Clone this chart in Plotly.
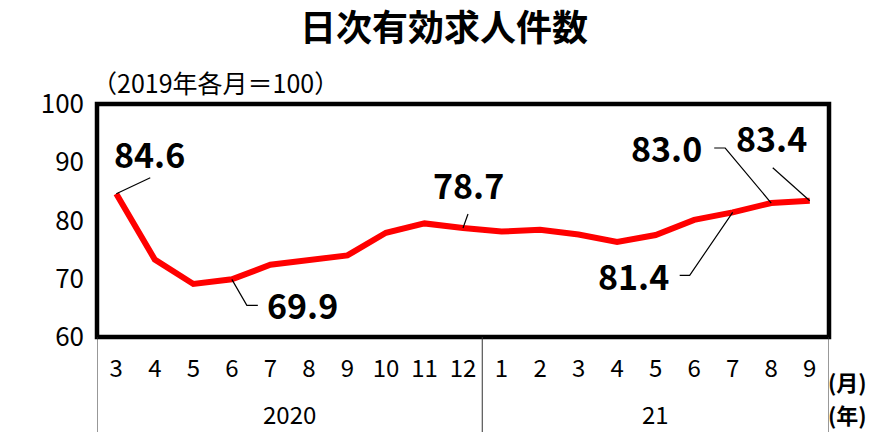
import plotly.graph_objects as go

months = ["3", "4", "5", "6", "7", "8", "9", "10", "11", "12",
          "1", "2", "3", "4", "5", "6", "7", "8", "9"]
values = [84.6, 73.3, 69.1, 69.9, 72.4, 73.3, 74.0, 77.9, 79.5, 78.7,
          78.1, 78.4, 77.6, 76.3, 77.5, 80.1, 81.4, 83.0, 83.4]
years = ["2020", "21"]
year_spans = [(0, 9), (10, 18)]
y_ticks = [60, 70, 80, 90, 100]

title_text = "日次有効求人件数"
base_text = "（2019年各月＝100）"

# labelled points: index, text, text offset (px, screen: +x right, +y down), leader path (px, +y up)
labels = [
    (0, "84.6", (33, -40), "M0,0 L34,16"),
    (3, "69.9", (71, 25), "M0,0 L15,-26 L26,-26"),
    (9, "78.7", (5, -44), "M0,0 L5,14"),
    (16, "81.4", (-99, 63), "M0,0 L-43,-63 L-53,-63"),
    (17, "83.0", (-105, -56), "M0,0 L-46,55 L-57,55"),
    (18, "83.4", (-38, -63), "M0,0 L-37,33"),
]

JP = "Noto Sans CJK JP"
x = list(range(len(months)))

fig = go.Figure()
fig.add_trace(go.Scatter(
    x=x, y=values, mode="lines",
    line=dict(color="#ff0000", width=6),
    hoverinfo="skip", showlegend=False,
))

for idx, txt, (dx, dy), path in labels:
    fig.add_annotation(
        x=x[idx], y=values[idx], xref="x", yref="y",
        text=txt, showarrow=False,
        xshift=dx, yshift=-dy,
        font=dict(family=JP, size=34, color="black", weight="bold"),
    )
    fig.add_shape(
        type="path", xref="x", yref="y",
        xsizemode="pixel", ysizemode="pixel",
        xanchor=x[idx], yanchor=values[idx],
        path=path, line=dict(color="black", width=1.2),
    )

# frame
fig.add_shape(type="rect", xref="paper", yref="paper", x0=0, x1=1, y0=0, y1=1,
              line=dict(color="black", width=4.5), layer="above")

# category separators below axis
for xv in [-0.5, 9.5, 18.5]:
    fig.add_shape(type="line", xref="x", yref="paper", x0=xv, x1=xv, y0=0, y1=-0.42,
                  line=dict(color="#333333", width=1))

for yr, (a, b) in zip(years, year_spans):
    fig.add_annotation(x=(a + b) / 2, y=-0.33, xref="x", yref="paper",
                       yanchor="middle",
                       text=yr, showarrow=False,
                       font=dict(family=JP, size=24, color="black"))

fig.add_annotation(x=0.996, y=-0.19, xref="paper", yref="paper", xanchor="left",
                   yanchor="middle",
                   text="(月)", showarrow=False,
                   font=dict(family=JP, size=22, color="black", weight="bold"))
fig.add_annotation(x=0.996, y=-0.33, xref="paper", yref="paper", xanchor="left",
                   yanchor="middle",
                   text="(年)", showarrow=False,
                   font=dict(family=JP, size=22, color="black", weight="bold"))

fig.add_annotation(x=-0.01, y=1.0, yshift=2, xref="paper", yref="paper", xanchor="left",
                   yanchor="bottom", text=base_text, showarrow=False,
                   font=dict(family=JP, size=25, color="black"))

fig.update_layout(
    width=874, height=432,
    margin=dict(l=97, r=45, t=104, b=95),
    paper_bgcolor="white", plot_bgcolor="white",
    title=dict(text=title_text, x=0.508, xref="container", xanchor="center",
               y=0.935, yref="container", yanchor="middle",
               font=dict(family=JP, size=36, color="black", weight="bold")),
    xaxis=dict(range=[-0.5, 18.5], tickmode="array", tickvals=x, ticktext=months,
               showgrid=False, zeroline=False, showline=False, ticks="",
               ticklabelstandoff=15,
               tickfont=dict(family=JP, size=24, color="black")),
    yaxis=dict(range=[60, 100], tickmode="array", tickvals=y_ticks,
               showgrid=False, zeroline=False, showline=False, ticks="",
               ticklabelstandoff=12,
               tickfont=dict(family=JP, size=26, color="black")),
)

fig.write_html("out.html", config={"displayModeBar": False},
               post_script="document.body.style.margin='0';")
